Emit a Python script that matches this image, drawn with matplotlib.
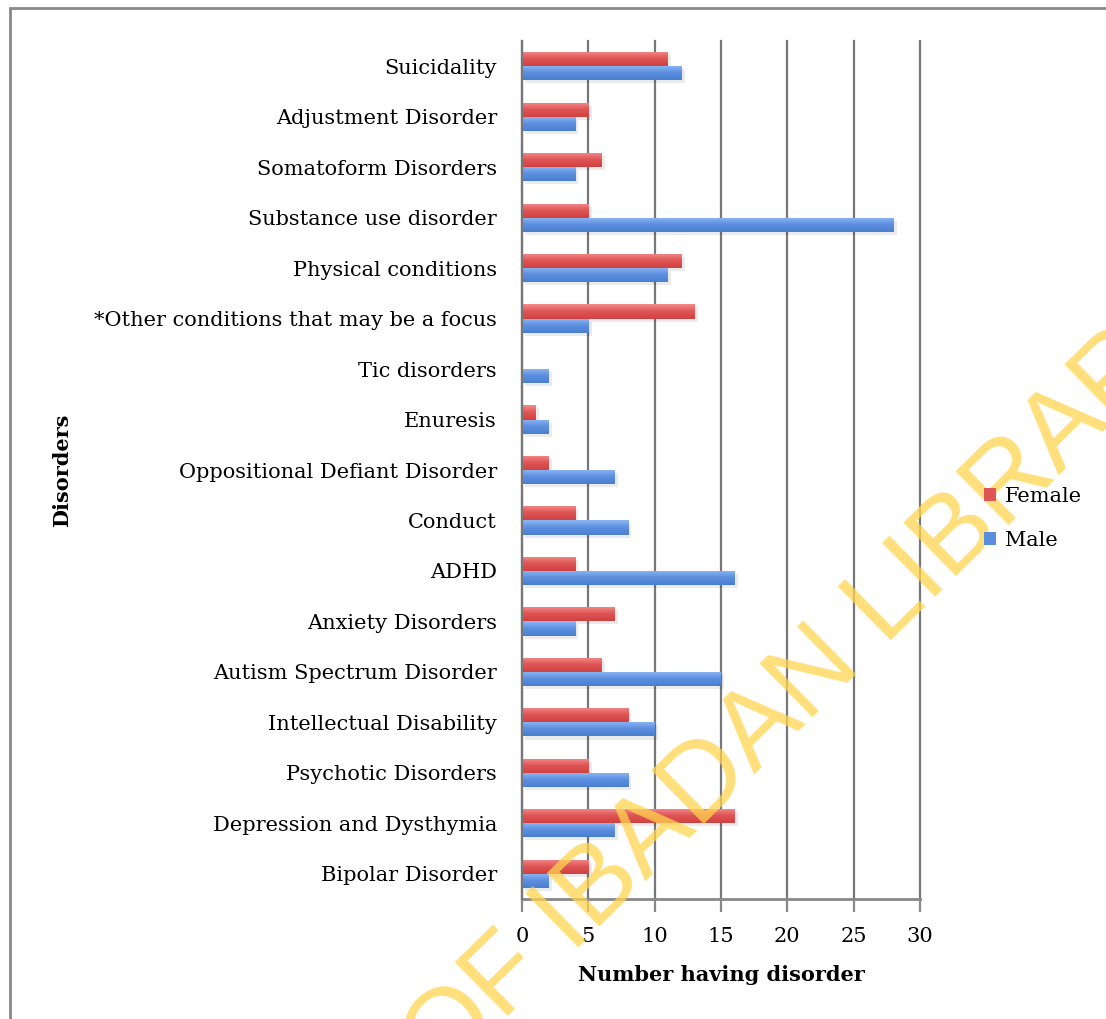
import numpy as np
import matplotlib
matplotlib.use('Agg')
import matplotlib.pyplot as plt
from matplotlib.patches import Rectangle
from matplotlib.colors import LinearSegmentedColormap

# categories listed bottom to top, as on the y axis
disorders = ['Bipolar Disorder', 'Depression and Dysthymia', 'Psychotic Disorders',
             'Intellectual Disability', 'Autism Spectrum Disorder', 'Anxiety Disorders',
             'ADHD', 'Conduct', 'Oppositional Defiant Disorder', 'Enuresis',
             'Tic disorders', '*Other conditions that may be a focus',
             'Physical conditions', 'Substance use disorder', 'Somatoform Disorders',
             'Adjustment Disorder', 'Suicidality']
female = [5, 16, 5, 8, 6, 7, 4, 4, 2, 1, 0, 13, 12, 5, 6, 5, 11]
male = [2, 7, 8, 10, 15, 4, 16, 8, 7, 2, 2, 5, 11, 28, 4, 4, 12]
xticks = [0, 5, 10, 15, 20, 25, 30]

red = '#DE5656'
blue = '#5A8DDE'
red_cmap = LinearSegmentedColormap.from_list('r', ['#D04242', '#DE5454', '#F48A8A'])
blue_cmap = LinearSegmentedColormap.from_list('b', ['#4A7FD0', '#5C8FE0', '#8DB6F4'])
font = 'DejaVu Serif'

fig = plt.figure(figsize=(11.06, 10.19), dpi=100)
ax = fig.add_axes([522/1106, 1 - 899/1019, (920-522)/1106, (899-41)/1019])

y = np.arange(len(disorders))
h = 0.28
# faint shadow under the bars
ax.barh(y + h/2 - 0.06, female, height=h, left=0.25, color='#000000', alpha=0.08, zorder=2)
ax.barh(y - h/2 - 0.06, male, height=h, left=0.25, color='#000000', alpha=0.08, zorder=2)
bars_f = ax.barh(y + h/2, female, height=h, color=red, label='Female', zorder=3)
bars_m = ax.barh(y - h/2, male, height=h, color=blue, label='Male', zorder=3)

# vertical shading on each bar (light top, darker bottom)
grad = np.linspace(1, 0, 32).reshape(-1, 1)
for bars, cmap in [(bars_f, red_cmap), (bars_m, blue_cmap)]:
    for b in bars:
        if b.get_width() <= 0:
            continue
        x0, y0 = b.get_x(), b.get_y()
        im = ax.imshow(grad, cmap=cmap, aspect='auto', zorder=3.5,
                       extent=[x0, x0 + b.get_width(), y0, y0 + b.get_height()])
        im.set_clip_path(b)

ax.set_xlim(0, 30)
ax.set_ylim(-0.5, len(disorders) - 0.5)
ax.set_xticks(xticks)
ax.set_yticks(y)
ax.set_yticklabels(disorders, fontsize=15, family=font)
ax.set_xticklabels([str(t) for t in xticks], fontsize=15, family=font)
ax.tick_params(axis='y', length=0, pad=18)
ax.tick_params(axis='x', length=9, width=1.6, color='#888888', pad=11.5, direction='out')

for s in ['top', 'right', 'left']:
    ax.spines[s].set_visible(False)
ax.spines['bottom'].set_color('#888888')
ax.spines['bottom'].set_linewidth(2)
ax.grid(True, axis='x', color='#777777', linewidth=1.6, zorder=0)
for gl in ax.get_xgridlines():
    gl.set_clip_on(False)
ax.axvline(0, color='#777777', linewidth=1.6, zorder=4, clip_on=False)

ax.set_xlabel('Number having disorder', fontsize=15, family=font, fontweight='bold', labelpad=13)
fig.text(62/1106, 1 - 470/1019, 'Disorders', rotation=90, fontsize=15, family=font,
         fontweight='bold', ha='center', va='center')

# legend as a figure artist so it sits above the watermark
leg = fig.legend(handles=[bars_f, bars_m], labels=['Female', 'Male'],
                 loc='center left', bbox_to_anchor=(965/1106, 1 - 518/1019),
                 frameon=False, prop={'family': font, 'size': 15},
                 handlelength=0.6, handleheight=0.6, handletextpad=0.4, labelspacing=1.2)
leg.set_zorder(20)

# outer frame of the original figure
fig.patches.append(Rectangle((10/1106, -0.05), 1.2, 1 - 8/1019 + 0.05, transform=fig.transFigure,
                             fill=False, edgecolor='#888888', linewidth=2))

# watermark
fig.text(810/1106, 1 - 680/1019, 'OF IBADAN LIBRARY', rotation=44.5, fontsize=79,
         color='#FFD54F', alpha=0.75, ha='center', va='center', family='Liberation Sans', zorder=10)

fig.savefig('out.png', dpi=100)
plt.close(fig)
